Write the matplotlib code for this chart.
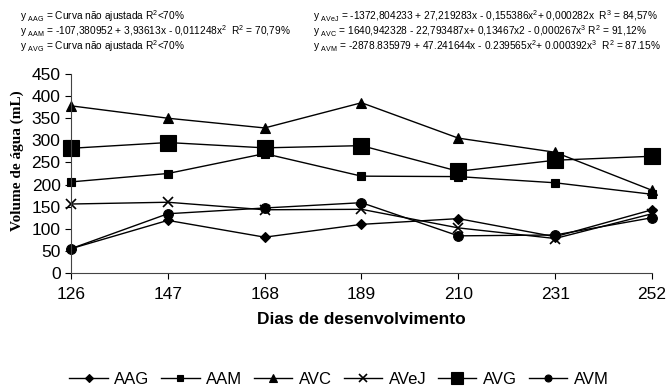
import matplotlib
matplotlib.use("Agg")
import matplotlib.pyplot as plt

plt.rcParams["font.family"] = ["Liberation Sans", "DejaVu Sans"]
plt.rcParams["mathtext.fontset"] = "custom"
plt.rcParams["mathtext.rm"] = "Liberation Sans"
plt.rcParams["mathtext.default"] = "regular"

dias = [126, 147, 168, 189, 210, 231, 252]

aag = [55, 119, 81, 110, 123, 82, 143]
aam = [206, 225, 270, 219, 218, 204, 178]
avc = [378, 350, 328, 385, 305, 273, 187]
avej = [156, 160, 143, 144, 102, 78, 134]
avg = [282, 295, 283, 288, 230, 255, 264]
avm = [55, 134, 147, 159, 84, 86, 125]

# name, values, marker, size in plot, size in legend
series = [
    ("AAG", aag, "D", 5, 4),
    ("AAM", aam, "s", 6, 5),
    ("AVC", avc, "^", 7, 5.5),
    ("AVeJ", avej, "x", 7, 6),
    ("AVG", avg, "s", 11, 8),
    ("AVM", avm, "o", 7, 5),
]

fig = plt.figure(figsize=(6.69, 3.86), dpi=100)
ax = fig.add_axes([71 / 669, 113 / 386, 581 / 669, 199 / 386])

for name, vals, mk, ms, _ in series:
    ax.plot(dias, vals, color="black", lw=1.0, marker=mk, ms=ms,
            mew=1.2 if mk == "x" else 0.8, mfc="black", mec="black",
            label=name, clip_on=False)

ax.set_xlim(126, 252)
ax.set_ylim(0, 450)
ax.set_xticks(dias)
ax.set_yticks(range(0, 451, 50))
ax.tick_params(axis="both", labelsize=12.5, length=4, width=0.8, direction="out")
ax.tick_params(axis="x", pad=6)
for s in ["top", "right"]:
    ax.spines[s].set_visible(False)
for s in ["left", "bottom"]:
    ax.spines[s].set_linewidth(0.8)
    ax.spines[s].set_color("#444444")

ax.set_xlabel("Dias de desenvolvimento", fontsize=12.5, fontweight="bold", labelpad=7)
fig.text(17 / 669, 1 - 161 / 386, "Volume de água (mL)", rotation=90,
         ha="center", va="center", fontsize=11, fontweight="bold",
         family=["Liberation Serif", "DejaVu Serif"])

leg = fig.legend(loc="center", bbox_to_anchor=(339 / 669, 1 - 379 / 386), ncol=6,
                 frameon=False, fontsize=12, handlelength=2.3, columnspacing=0.7,
                 handletextpad=0.4, borderaxespad=0, borderpad=0)
for h, s in zip(leg.legend_handles, series):
    h.set_markersize(s[4])

left_lines = [
    r"y $_{AAG}$ = Curva não ajustada R$^{2}$<70%",
    r"y $_{AAM}$ = -107,380952 + 3,93613x - 0,011248x$^{2}$  R$^{2}$ = 70,79%",
    r"y $_{AVG}$ = Curva não ajustada R$^{2}$<70%",
]
right_lines = [
    r"y $_{AVeJ}$ = -1372,804233 + 27,219283x - 0,155386x$^{2}$+ 0,000282x  R$^{3}$ = 84,57%",
    r"y $_{AVC}$ = 1640,942328 - 22,793487x+ 0,13467x2 - 0,000267x$^{3}$ R$^{2}$ = 91,12%",
    r"y $_{AVM}$ = -2878.835979 + 47.241644x - 0.239565x$^{2}$+ 0.000392x$^{3}$  R$^{2}$ = 87.15%",
]
for i, (lt, rt) in enumerate(zip(left_lines, right_lines)):
    yy = 1 - (16 + 15 * i) / 386
    fig.text(20 / 669, yy, lt, fontsize=7.3, va="center", ha="left")
    fig.text(313 / 669, yy, rt, fontsize=7.3, va="center", ha="left")

fig.savefig("out.png", dpi=100)
